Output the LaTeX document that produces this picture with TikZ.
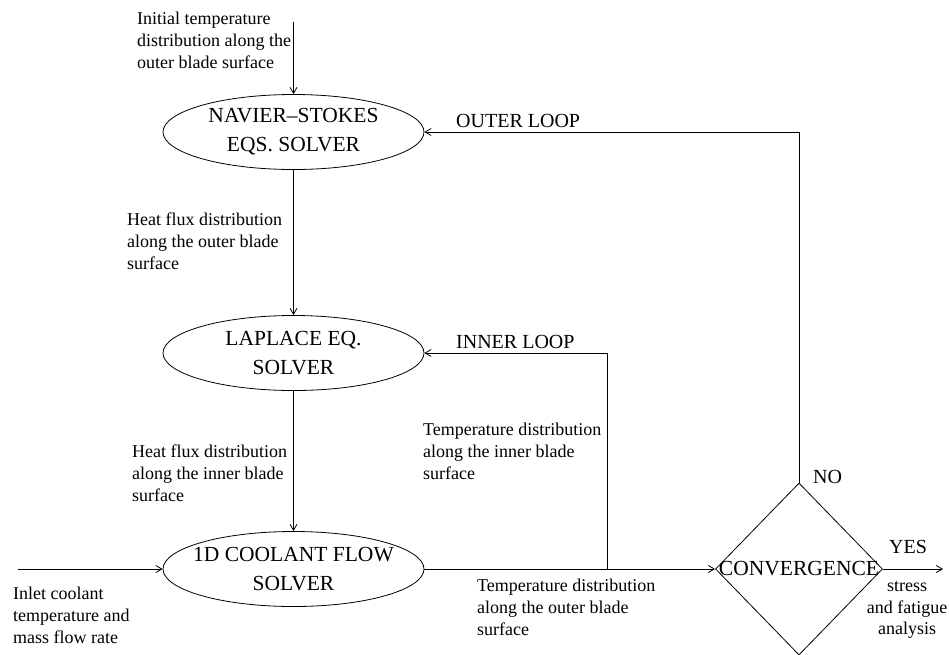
\documentclass[tikz,border=0pt]{standalone}
\usepackage{fontspec}
\setmainfont{Liberation Serif}
\usetikzlibrary{shapes.geometric,arrows.meta}
\tikzset{
  bigfont/.style={font=\fontsize{21.5}{29}\selectfont},
  lblfont/.style={font=\fontsize{20}{24}\selectfont},
  smallfont/.style={font=\fontsize{18}{21.8}\selectfont},
  solver/.style={draw,ellipse,minimum width=261pt,minimum height=75pt,inner sep=0pt,line width=0.8pt},
  decision/.style={draw,diamond,minimum width=167pt,minimum height=172pt,inner sep=0pt,line width=0.8pt},
  note/.style={smallfont,align=left,anchor=north west,inner sep=0pt},
  looplbl/.style={lblfont,anchor=base west,inner sep=0pt},
  flow/.style={line width=0.8pt,-{Straight Barb[length=6pt,width=7pt]}},
  plain/.style={line width=0.8pt}
}
\begin{document}
\begin{tikzpicture}[x=1pt,y=-1pt]
\useasboundingbox (0,0) rectangle (949,654);
% solvers
\node[solver,label={[bigfont,align=center]center:NAVIER--STOKES\\EQS. SOLVER}] (ns) at (293.5,132) {};
\node[solver,label={[bigfont,align=center]center:LAPLACE EQ.\\SOLVER}] (lap) at (293.5,353) {};
\node[solver,label={[bigfont,align=center]center:1D COOLANT FLOW\\SOLVER}] (cool) at (293.5,569) {};
\node[decision,label={[bigfont,inner sep=0pt]center:CONVERGENCE}] (conv) at (799,569) {};
% free ends
\coordinate (start) at (293.5,22);
\coordinate (inlet) at (18,569);
\coordinate (junc) at (607,569);
\coordinate (out) at (943,569);
% connectors
\draw[flow] (start) -- (ns.north);
\draw[flow] (ns.south) -- (lap.north);
\draw[flow] (lap.south) -- (cool.north);
\draw[flow] (inlet) -- (cool.west);
\draw[flow] (cool.east) -- (conv.west);
\draw[flow] (junc) |- (lap.east);
\draw[flow] (conv.north) |- (ns.east);
\draw[flow] (conv.east) -- (out);
% texts
\node[note] (t1) at (137,12) {Initial temperature\\distribution along the\\outer blade surface};
\node[note] (t2) at (127,213) {Heat flux distribution\\along the outer blade\\surface};
\node[note] (t3) at (132,445) {Heat flux distribution\\along the inner blade\\surface};
\node[note] (t4) at (13,587) {Inlet coolant\\temperature and\\mass flow rate};
\node[note] (t5) at (423,423) {Temperature distribution\\along the inner blade\\surface};
\node[note] (t6) at (477,579) {Temperature distribution\\along the outer blade\\surface};
\node[smallfont,align=center,anchor=north,inner sep=0pt] (t7) at (907,581) {stress\\and fatigue\\analysis};
\node[looplbl] (l1) at (456,127) {OUTER LOOP};
\node[looplbl] (l2) at (456,348) {INNER LOOP};
\node[looplbl] (l3) at (813,483) {NO};
\node[looplbl] (l4) at (889,553) {YES};
\end{tikzpicture}
\end{document}
